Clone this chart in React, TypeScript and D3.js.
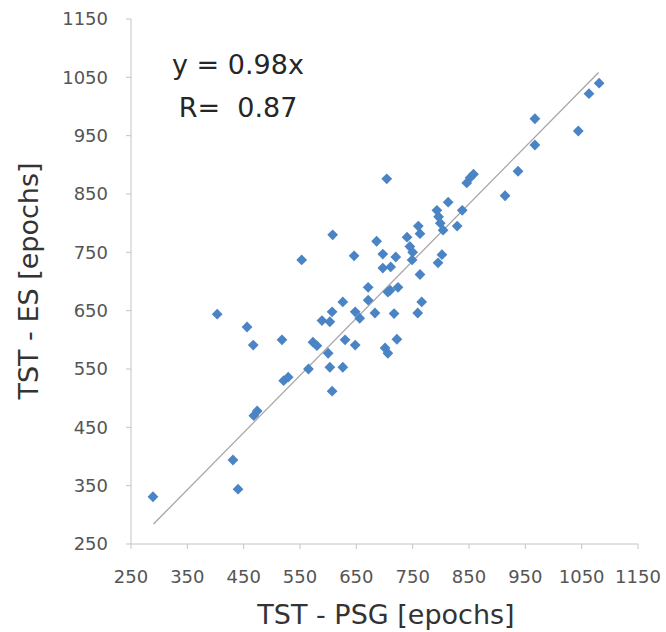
import React from "react";
import * as d3 from "d3";

const psg = [289, 431, 440, 468, 474, 403, 456, 467, 518, 521, 529, 565, 573, 580, 553, 608, 600, 603, 607, 589, 603, 607, 626, 626, 630, 648, 648, 656, 646, 671, 671, 683, 686, 704, 697, 720, 697, 711, 706, 724, 710, 717, 722, 701, 706, 740, 745, 750, 749, 760, 763, 763, 766, 759, 793, 796, 799, 804, 829, 813, 838, 802, 795, 846, 852, 858, 914, 937, 967, 967, 1044, 1063, 1081];
const es = [331, 394, 344, 470, 478, 644, 622, 591, 600, 530, 536, 550, 596, 590, 737, 780, 577, 553, 512, 633, 631, 648, 665, 553, 600, 591, 648, 637, 744, 690, 668, 646, 769, 876, 747, 742, 723, 725, 682, 690, 685, 645, 601, 586, 577, 776, 760, 750, 737, 795, 782, 712, 665, 646, 822, 811, 800, 788, 795, 836, 822, 746, 732, 869, 878, 884, 847, 889, 934, 979, 958, 1022, 1040];
const ticks = [250, 350, 450, 550, 650, 750, 850, 950, 1050, 1150];
const slope = 0.98;
const trendRange = [290, 1080];
const eqLines = ["y = 0.98x", "R=  0.87"];
const xTitle = "TST - PSG [epochs]";
const yTitle = "TST - ES [epochs]";

export default function App() {
  const W = 666, H = 632;
  const x = d3.scaleLinear().domain([250, 1150]).range([131, 638]);
  const y = d3.scaleLinear().domain([250, 1150]).range([544, 19]);
  const sym = d3.symbol().type(d3.symbolSquare).size(58)();
  const font = "'DejaVu Sans', sans-serif";
  const axisColor = "#c4c4c4";
  return (
    <svg width={W} height={H} style={{ position: "absolute", left: 0, top: 0, background: "#fff" }}>
      <line x1={x(250)} x2={x(1150)} y1={y(250)} y2={y(250)} stroke={axisColor} strokeWidth={1} />
      <line x1={x(250)} x2={x(250)} y1={y(250)} y2={y(1150)} stroke={axisColor} strokeWidth={1} />
      {ticks.map((t) => (
        <g key={"x" + t}>
          <line x1={x(t)} x2={x(t)} y1={y(250)} y2={y(250) + 5} stroke={axisColor} />
          <text x={x(t)} y={583} textAnchor="middle" fontFamily={font} fontSize={18} fill="#555">{t}</text>
        </g>
      ))}
      {ticks.map((t) => (
        <g key={"y" + t}>
          <line x1={x(250) - 5} x2={x(250)} y1={y(t)} y2={y(t)} stroke={axisColor} />
          <text x={108} y={y(t)} dy="0.36em" textAnchor="end" fontFamily={font} fontSize={18} fill="#555">{t}</text>
        </g>
      ))}
      <line x1={x(trendRange[0])} y1={y(trendRange[0] * slope)} x2={x(trendRange[1])} y2={y(trendRange[1] * slope)} stroke="#aaa5a5" strokeWidth={1.3} />
      {psg.map((v, i) => (
        <path key={i} d={sym} transform={`translate(${x(v)},${y(es[i])}) rotate(45)`} fill="#4a84c4" />
      ))}
      <text x={238} y={74} textAnchor="middle" fontFamily={font} fontSize={27} fill="#262626">{eqLines[0]}</text>
      <text x={238} y={117} textAnchor="middle" fontFamily={font} fontSize={27} fill="#262626" style={{ whiteSpace: "pre" }}>{eqLines[1]}</text>
      <text x={386} y={624} textAnchor="middle" fontFamily={font} fontSize={27} fill="#333">{xTitle}</text>
      <text transform={`translate(38,281) rotate(-90)`} textAnchor="middle" fontFamily={font} fontSize={27} fill="#333">{yTitle}</text>
    </svg>
  );
}
